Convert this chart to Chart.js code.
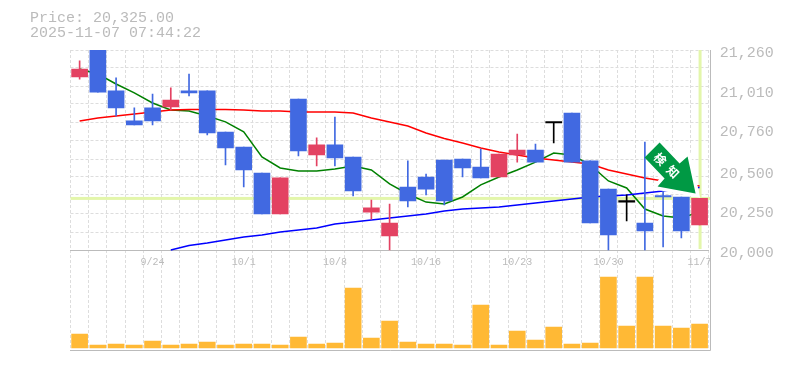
<!DOCTYPE html>
<html>
<head>
<meta charset="utf-8">
<title>Price chart</title>
<style>
  body { margin: 0; background: #fff; }
  #wrap { position: relative; width: 785px; height: 370px; overflow: hidden; }
  #info {
    position: absolute; left: 30px; top: 11px;
    font: 15px/15px "Liberation Mono", monospace; color: #bbb; white-space: pre;
  }
  canvas { display: block; }
</style>
</head>
<body>
<div id="wrap">
  <div id="info">Price: 20,325.00
2025-11-07 07:44:22</div>
  <canvas id="chart" width="785" height="370"></canvas>
</div>
<script src="https://cdn.jsdelivr.net/npm/chart.js@4"></script>
<script>
const dates = ['9/17', '9/18', '9/19', '9/22', '9/24', '9/25', '9/26', '9/29', '9/30', '10/1', '10/2', '10/3',
  '10/6', '10/7', '10/8', '10/9', '10/10', '10/14', '10/15', '10/16', '10/17', '10/20', '10/21', '10/22', '10/23',
  '10/24', '10/27', '10/28', '10/29', '10/30', '10/31', '11/4', '11/5', '11/6', '11/7'];
const shownDates = ['9/24', '10/1', '10/8', '10/16', '10/23', '10/30', '11/7'];

const opens = [21090, 21260, 21002, 20813, 20895, 20901, 21002, 21002, 20743, 20649, 20485, 20227,
  20951, 20599, 20662, 20586, 20239, 20088, 20397, 20460, 20567, 20573, 20523, 20460, 20599,
  20630, 20800, 20863, 20561, 20384, 20302, 20170, 20340, 20334, 20158];
const highs = [21191, 21260, 21084, 20895, 20983, 21021, 21109, 21002, 20743, 20649, 20485, 20454,
  20951, 20706, 20838, 20586, 20315, 20290, 20561, 20479, 20567, 20573, 20636, 20605, 20731,
  20668, 20800, 20863, 20561, 20384, 20347, 20680, 20472, 20334, 20325];
const lows = [21077, 20995, 20844, 20788, 20788, 20882, 20970, 20725, 20536, 20397, 20227, 20227,
  20592, 20529, 20529, 20340, 20195, 20000, 20271, 20347, 20284, 20460, 20454, 20460, 20554,
  20554, 20674, 20554, 20170, 20000, 20183, 20000, 20019, 20076, 20158];
const closes = [21140, 20995, 20895, 20788, 20813, 20945, 20989, 20737, 20643, 20504, 20227, 20454,
  20624, 20662, 20580, 20372, 20265, 20170, 20309, 20384, 20309, 20517, 20454, 20605, 20630,
  20554, 20800, 20554, 20170, 20095, 20302, 20120, 20334, 20120, 20325];

const maShort = [21140, 21109, 21046, 20990, 20926, 20882, 20876, 20844, 20807, 20744, 20586, 20517,
  20498, 20498, 20510, 20529, 20504, 20416, 20353, 20302, 20290, 20334, 20410, 20460, 20504,
  20554, 20611, 20598, 20536, 20435, 20391, 20258, 20214, 20202, 20240];
const maMid = [20813, 20832, 20844, 20857, 20870, 20882, 20885, 20885, 20885, 20882, 20876, 20876,
  20870, 20870, 20870, 20863, 20832, 20806, 20781, 20737, 20703, 20674, 20643, 20617, 20599,
  20580, 20567, 20554, 20542, 20504, 20479, 20454, 20435, 20416, 20403];
const maLong = [null, null, null, null, null, 20000, 20028, 20044, 20063, 20082, 20095, 20113,
  20126, 20139, 20164, 20176, 20189, 20202, 20214, 20227, 20246, 20258, 20265, 20271, 20284,
  20296, 20309, 20321, 20334, 20340, 20347, 20359, 20372, 20384, 20394];

const volumes = [1400, 300, 400, 300, 700, 300, 400, 600, 300, 400, 400, 300,
  1100, 400, 500, 6000, 1000, 2700, 600, 400, 400, 300, 4300, 300, 1700,
  800, 2100, 400, 500, 7100, 2200, 7100, 2200, 2000, 2400];

const priceLabels = [20000, 20250, 20500, 20760, 21010, 21260];
const priceGrid = [20000, 20113, 20227, 20347, 20460, 20573, 20687, 20806, 20920, 21033, 21147, 21260];
const lastPrice = 20325;

const upColor = '#e34262';
const downColor = '#4169e1';
const flatColor = '#000000';
const candleColors = closes.map((c, i) => (c > opens[i] ? upColor : c < opens[i] ? downColor : flatColor));

const lineSet = (label, data, color, order) => ({
  type: 'line',
  label,
  data,
  yAxisID: 'y',
  borderColor: color,
  borderWidth: 1.5,
  pointRadius: 0,
  order,
});

// highlight lines, outer frame and the signal arrow
const overlay = {
  id: 'overlay',
  beforeDatasetsDraw(chart) {
    const { ctx, chartArea, scales } = chart;
    const py = scales.y.getPixelForValue(lastPrice);
    const lx = scales.x.getPixelForValue(dates.length - 1);
    ctx.save();
    ctx.fillStyle = '#e3f6ab';
    ctx.fillRect(chartArea.left, py - 1.5, chartArea.right - chartArea.left + 2, 3);
    ctx.fillRect(lx - 1, chartArea.top, 3, scales.y.getPixelForValue(20000) - chartArea.top - 1);
    ctx.restore();
  },
  afterDraw(chart) {
    const { ctx, chartArea, scales } = chart;
    ctx.save();
    ctx.strokeStyle = '#bbb';
    ctx.lineWidth = 1;
    ctx.beginPath();
    ctx.moveTo(710.5, chartArea.top);
    ctx.lineTo(710.5, 350.5);
    ctx.lineTo(70, 350.5);
    ctx.stroke();

    // arrow tip sits just above the last candle
    const tipX = scales.x.getPixelForValue(dates.length - 1) - 4;
    const tipY = scales.y.getPixelForValue(lastPrice) - 5;
    const shape = [[0, 0], [-38, -7], [-31, -15], [-51, -36], [-36, -51], [-16, -30], [-8, -37]];
    const tracePath = () => {
      ctx.beginPath();
      shape.forEach(([dx, dy], i) => (i ? ctx.lineTo(tipX + dx, tipY + dy) : ctx.moveTo(tipX + dx, tipY + dy)));
      ctx.closePath();
    };

    // white halo, kept off the wick to the left of the arrow
    ctx.save();
    ctx.beginPath();
    ctx.rect(tipX - 46, tipY - 60, 60, 70);
    ctx.clip();
    tracePath();
    ctx.strokeStyle = '#fff';
    ctx.lineWidth = 7;
    ctx.stroke();
    ctx.restore();

    tracePath();
    ctx.fillStyle = '#009944';
    ctx.fill();

    ctx.translate(tipX - 29, tipY - 28);
    ctx.rotate(Math.PI / 4);
    ctx.fillStyle = '#fff';
    ctx.font = 'bold 12px "Noto Sans CJK JP"';
    ctx.textAlign = 'center';
    ctx.textBaseline = 'middle';
    ctx.fillText('検', -9, 0);
    ctx.fillText('知', 9, 0);
    ctx.restore();
  },
};

new Chart(document.getElementById('chart'), {
  data: {
    labels: dates,
    datasets: [
      {
        type: 'bar',
        label: 'Volume',
        data: volumes,
        yAxisID: 'yVol',
        backgroundColor: '#ffb935',
        barThickness: 16,
        grouped: false,
        order: 5,
      },
      lineSet('MA long', maLong, '#0000ff', 4),
      lineSet('MA mid', maMid, '#ff0000', 4),
      lineSet('MA short', maShort, '#008000', 4),
      {
        type: 'bar',
        label: 'Range',
        data: dates.map((d, i) => [lows[i], highs[i]]),
        yAxisID: 'y',
        backgroundColor: candleColors,
        barThickness: 1,
        grouped: false,
        order: 2,
      },
      {
        type: 'bar',
        label: 'Body',
        data: dates.map((d, i) => [opens[i], closes[i]]),
        yAxisID: 'y',
        backgroundColor: candleColors,
        barThickness: 16,
        minBarLength: 1.5,
        grouped: false,
        order: 1,
      },
    ],
  },
  options: {
    responsive: false,
    animation: false,
    layout: { padding: { left: 70.5, top: 50, bottom: 20, right: 0 } },
    plugins: { legend: { display: false }, tooltip: { enabled: false } },
    scales: {
      x: {
        position: { y: 20000 },
        grid: { color: '#ddd', drawTicks: false },
        border: { color: '#bbb', dash: [3, 2] },
        ticks: {
          autoSkip: false,
          maxRotation: 0,
          padding: 6,
          color: '#bbb',
          font: { family: '"Liberation Mono"', size: 10 },
          callback(value) {
            const d = this.getLabelForValue(value);
            return shownDates.includes(d) ? d : '';
          },
        },
      },
      y: {
        position: 'right',
        min: 19370,
        max: 21260,
        grid: { display: false },
        border: { display: false },
        afterBuildTicks(scale) {
          scale.ticks = priceLabels.map((value) => ({ value }));
        },
        afterFit(scale) {
          scale.width = 76.3;
        },
        ticks: {
          padding: 3,
          labelOffset: 3,
          color: '#bbb',
          font: { family: '"Liberation Mono"', size: 15 },
          callback: (value) => value.toLocaleString('en-US'),
        },
      },
      yGrid: {
        position: 'right',
        min: 19370,
        max: 21260,
        afterBuildTicks(scale) {
          scale.ticks = priceGrid.map((value) => ({ value }));
        },
        afterFit(scale) {
          scale.width = 0;
        },
        grid: { color: '#ddd', drawTicks: false },
        border: { display: false, dash: [3, 2] },
        ticks: { display: false },
      },
      yVol: { display: false, min: -200, max: 29800 },
    },
  },
  plugins: [overlay],
});
</script>
</body>
</html>
